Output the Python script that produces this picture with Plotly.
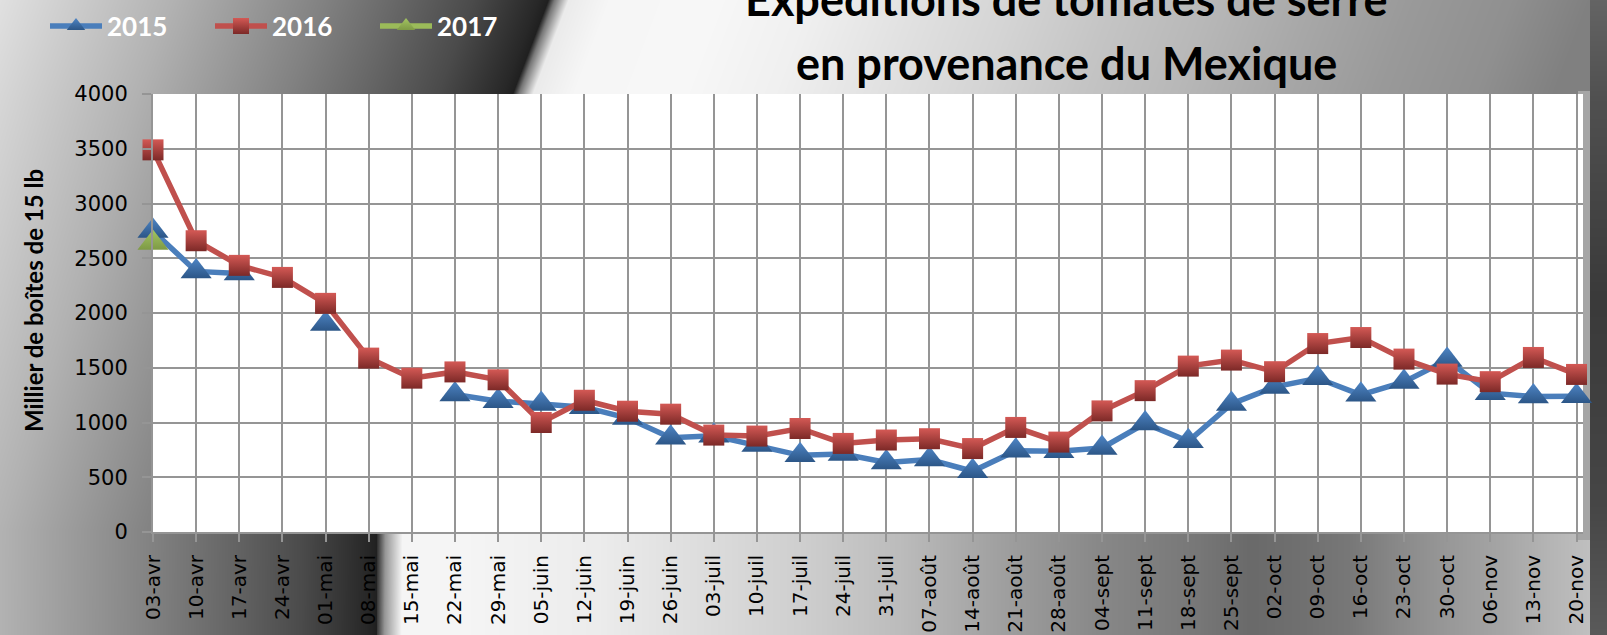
import numpy as np
import plotly.graph_objects as go
import zlib, struct, base64

# ---------------- data ----------------
categories = ['03-avr', '10-avr', '17-avr', '24-avr', '01-mai', '08-mai', '15-mai', '22-mai',
              '29-mai', '05-juin', '12-juin', '19-juin', '26-juin', '03-juil', '10-juil',
              '17-juil', '24-juil', '31-juil', '07-août', '14-août', '21-août', '28-août',
              '04-sept', '11-sept', '18-sept', '25-sept', '02-oct', '09-oct', '16-oct',
              '23-oct', '30-oct', '06-nov', '13-nov', '20-nov']

s2015 = [2750, 2380, 2360, None, 1900, None, None, 1255, 1195, 1170, 1140, 1040, 860, 878,
         795, 700, 712, 635, 662, 555, 742, 737, 767, 992, 828, 1170, 1325, 1404, 1253,
         1370, 1570, 1268, 1237, 1240]

s2016 = [3490, 2660, 2435, 2325, 2088, 1588, 1405, 1462, 1390, 1000, 1203, 1103, 1076, 885,
         876, 945, 809, 840, 852, 762, 955, 821, 1106, 1291, 1515, 1570, 1464, 1721, 1776,
         1579, 1442, 1373, 1594, 1439]

s2017 = [2640] + [None] * 33

y_ticks = [0, 500, 1000, 1500, 2000, 2500, 3000, 3500, 4000]

# ---------------- geometry ----------------
W, H = 1607, 635
L, R, T, B = 153, 1583, 94, 532

# ---------------- background gradient (decoration) ----------------
yy, xx = np.mgrid[0:H, 0:W].astype(float)
x_edge = np.interp(yy, [0, 100, 530, 635], [548, 510, 377, 376])
d = x_edge - xx
lp = [(0, 32), (10, 40), (75, 75), (155, 105), (225, 130), (375, 178), (550, 225), (800, 235)]
left_val = np.interp(d, [p[0] for p in lp], [p[1] for p in lp])
e = xx - x_edge
tp = [(0, 35), (6, 120), (20, 235), (60, 246), (164, 248), (264, 240), (364, 226), (464, 213),
      (564, 197), (664, 184), (764, 168), (864, 154), (964, 144), (1044, 128), (1200, 128)]
top_val = np.interp(e, [p[0] for p in tp], [p[1] for p in tp])
bp = [(376, 245), (470, 245), (600, 236), (800, 207), (900, 188), (1000, 160), (1100, 136),
      (1200, 119), (1250, 106), (1300, 112), (1350, 120), (1400, 138), (1450, 153), (1500, 165),
      (1550, 181), (1590, 192), (1607, 192)]
bot_val = np.interp(xx, [p[0] for p in bp], [p[1] for p in bp])
ramp = np.interp(e, [0, 8, 25], [50, 150, 245])
bot_val = np.minimum(bot_val, ramp)
right_val = np.where(yy < 300, top_val, bot_val)
img = np.where(d > 0, left_val, right_val)
mid = (xx >= 1578) & (yy > 90) & (yy < 540)
img = np.where(mid, 165, img)
strip = np.interp(yy, [0, 100, 300, 500, 635], [100, 80, 58, 70, 90])
img = np.where(xx >= 1590, strip, img)
img = np.clip(img, 0, 255).astype(np.uint8)


def png_uri(a):
    h, w = a.shape
    raw = b''.join(b'\x00' + a[i].tobytes() for i in range(h))

    def chunk(t, dd):
        c = struct.pack('>I', len(dd)) + t + dd
        return c + struct.pack('>I', zlib.crc32(t + dd) & 0xffffffff)
    png = (b'\x89PNG\r\n\x1a\n' + chunk(b'IHDR', struct.pack('>IIBBBBB', w, h, 8, 0, 0, 0, 0))
           + chunk(b'IDAT', zlib.compress(raw, 9)) + chunk(b'IEND', b''))
    return 'data:image/png;base64,' + base64.b64encode(png).decode()


bg_uri = png_uri(img)

# ---------------- figure ----------------
fig = go.Figure()
fig.add_trace(go.Scatter(
    x=categories, y=s2015, name='2015', mode='lines+markers', cliponaxis=False,
    line=dict(color='#4a7ebb', width=5.5),
    marker=dict(symbol='triangle-up', size=27, color='#4f86c6',
                gradient=dict(type='vertical', color='#2c5687'), line=dict(width=0)),
    connectgaps=False))
fig.add_trace(go.Scatter(
    x=categories, y=s2016, name='2016', mode='lines+markers', cliponaxis=False,
    line=dict(color='#c0504d', width=5.5),
    marker=dict(symbol='square', size=21, color='#d45955',
                gradient=dict(type='vertical', color='#7c2927'), line=dict(width=0)),
    connectgaps=False))
fig.add_trace(go.Scatter(
    x=categories, y=s2017, name='2017', mode='lines+markers', cliponaxis=False,
    line=dict(color='#9bbb59', width=5.5),
    marker=dict(symbol='triangle-up', size=27, color='#a3c562',
                gradient=dict(type='vertical', color='#7e9a45'), line=dict(width=0)),
    connectgaps=False))


def px_x(p):
    return (p - L) / (R - L)


def px_y(p):
    return (B - p) / (B - T)


fig.add_annotation(text='<b>Expéditions de tomates de serre</b>', x=px_x(1066), y=px_y(-1),
                   xref='paper', yref='paper', showarrow=False, xanchor='center', yanchor='middle',
                   font=dict(family='Lato', size=45, color='black'))
fig.add_annotation(text='<b>en provenance du Mexique</b>', x=px_x(1066), y=px_y(63),
                   xref='paper', yref='paper', showarrow=False, xanchor='center', yanchor='middle',
                   font=dict(family='Lato', size=45, color='black'))
fig.add_annotation(text='<b>Millier de boîtes de 15 lb</b>', x=px_x(33), y=px_y(301),
                   xref='paper', yref='paper', showarrow=False, xanchor='center', yanchor='middle',
                   textangle=-90, font=dict(family='Lato', size=24, color='black'))

fig.update_layout(
    width=W, height=H,
    margin=dict(l=L, r=W - R, t=T, b=H - B, pad=0, autoexpand=False),
    paper_bgcolor='#b0b0b0',
    plot_bgcolor='white',
    images=[dict(source=bg_uri, xref='paper', yref='paper', x=-L / (R - L), y=B / (B - T),
                 sizex=W / (R - L), sizey=H / (B - T), xanchor='left', yanchor='top',
                 sizing='stretch', layer='below')],
    shapes=[dict(type='rect', xref='paper', yref='paper', x0=0, x1=1, y0=0, y1=1,
                 fillcolor='white', line=dict(width=0), layer='below')],
    showlegend=True,
    legend=dict(orientation='h', xref='container', yref='container',
                x=45 / W, y=1 - 26 / H, xanchor='left', yanchor='middle',
                bgcolor='rgba(0,0,0,0)',
                font=dict(family='Lato', size=26, color='white', weight='bold'),
                itemwidth=52, entrywidth=98, traceorder='normal'),
    xaxis=dict(type='category', range=[0, 33.15], showgrid=True, gridcolor='#959595', gridwidth=2,
               tickangle=-90, tickfont=dict(family='DejaVu Sans', size=20, color='black'),
               ticks='outside', ticklen=8, tickcolor='#959595', tickwidth=2,
               showline=True, linecolor='#959595', linewidth=2, ticklabelstandoff=5,
               zeroline=False, automargin=False),
    yaxis=dict(range=[0, 4000], tickvals=y_ticks, showgrid=True, gridcolor='#959595', gridwidth=2,
               tickfont=dict(family='DejaVu Sans', size=21, color='black'),
               ticks='outside', ticklen=9, tickcolor='#959595', tickwidth=2,
               showline=True, linecolor='#959595', linewidth=2, ticklabelstandoff=10,
               zeroline=False, automargin=False),
)

fig.write_html('out.html', config={'displayModeBar': False},
               post_script="document.body.style.margin='0';document.body.style.overflow='hidden';")
